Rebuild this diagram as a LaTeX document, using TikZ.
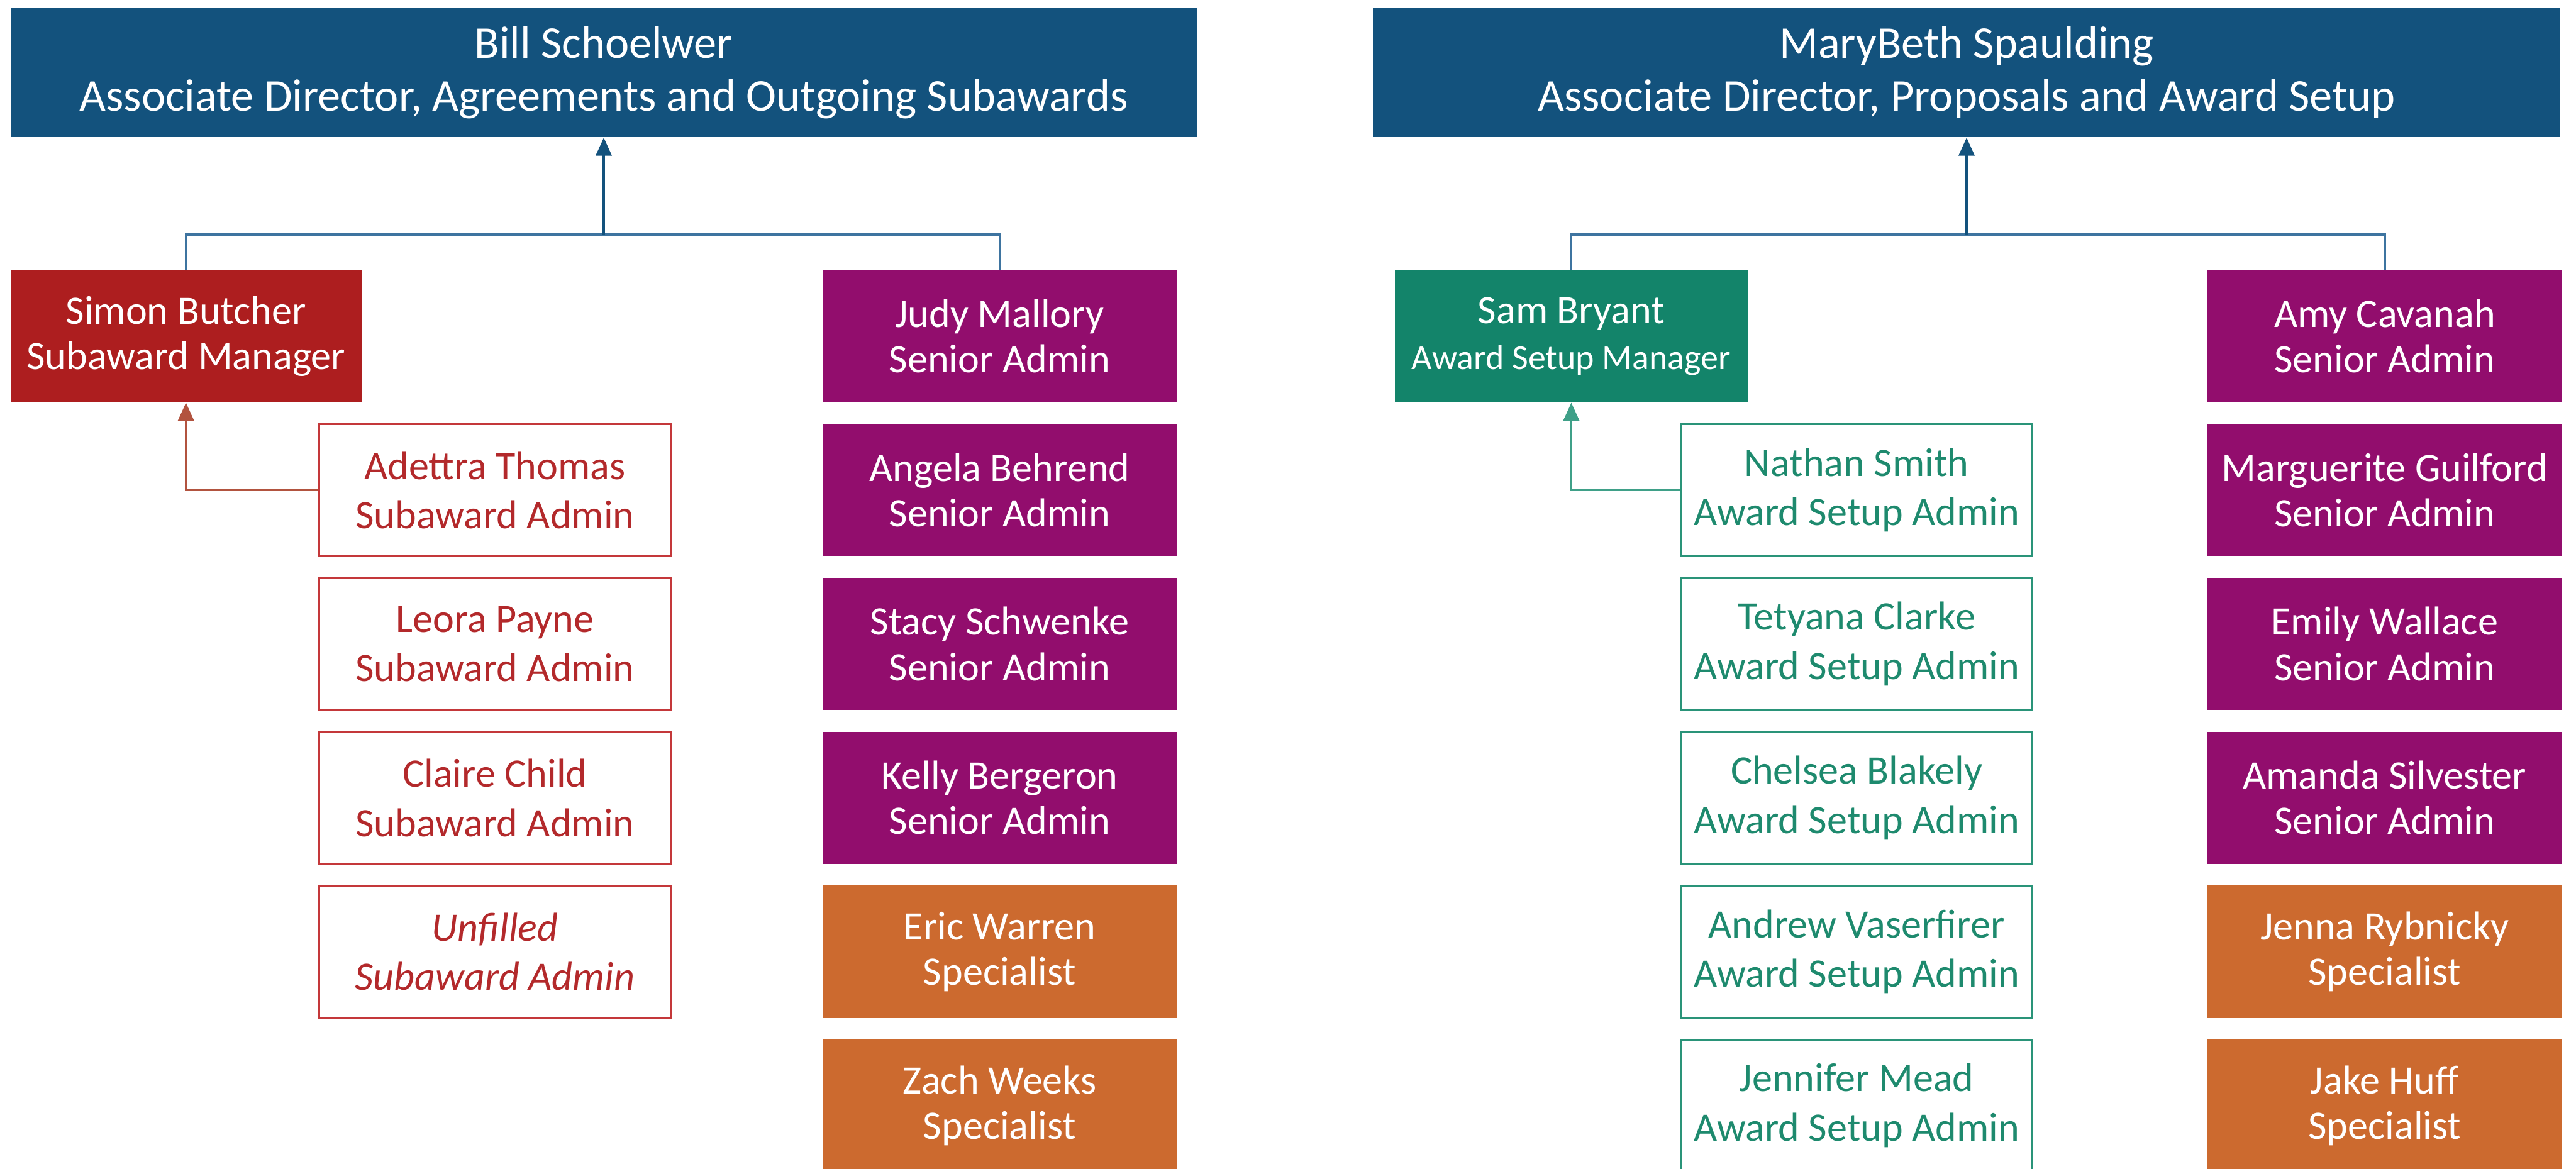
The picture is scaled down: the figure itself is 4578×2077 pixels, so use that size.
\documentclass[tikz,border=0pt]{standalone}
\usepackage{fontspec}
\setmainfont{Carlito}
\usetikzlibrary{arrows.meta}
\definecolor{topblue}{HTML}{13527D}
\definecolor{mred}{HTML}{AD1E1F}
\definecolor{opurple}{HTML}{920D6D}
\definecolor{oorange}{HTML}{CC6A2F}
\definecolor{mteal}{HTML}{13846A}
\definecolor{rline}{HTML}{C4383A}
\definecolor{rtext}{HTML}{B3292B}
\definecolor{tline}{HTML}{2A9479}
\definecolor{ttext}{HTML}{1E8A6E}
\definecolor{lblue}{HTML}{3E74A0}
\definecolor{lred}{HTML}{B2533F}
\definecolor{lteal}{HTML}{3FA088}
\tikzset{
  topbox/.style={rectangle, fill=topblue, text=white, minimum height=2.30cm, inner sep=0pt, align=center, font=\fontsize{23}{26.6}\selectfont},
  fbox/.style={rectangle, text=white, minimum height=2.35cm, inner sep=0pt, align=center, font=\fontsize{20.4}{23}\selectfont},
  mgrbox/.style={fbox, minimum width=6.25cm},
  purplebox/.style={fbox, fill=opurple, minimum width=6.29cm},
  orangebox/.style={fbox, fill=oorange, minimum width=6.29cm},
  obox/.style={rectangle, fill=white, minimum width=6.25cm, minimum height=2.34cm, inner sep=0pt, align=center, line width=1pt, font=\fontsize{20.4}{25}\selectfont},
  redbox/.style={obox, draw=rline, text=rtext},
  tealbox/.style={obox, draw=tline, text=ttext},
  conn/.style={line width=1.1pt},
  tip/.style={-{Triangle[width=0.28cm,length=0.32cm]}}
}
\begin{document}
\begin{tikzpicture}[x=0.01cm,y=-0.01cm]
\useasboundingbox (0,0) rectangle (4578,2077);
% ---------- left tree ----------
\node[topbox, minimum width=21.06cm] (bill) at (1073,129) {Bill Schoelwer\\Associate Director, Agreements and Outgoing Subawards};
\node[mgrbox, fill=mred, minimum width=6.23cm, minimum height=2.34cm] (simon) at (330.5,598) {Simon Butcher\\Subaward Manager};
\node[purplebox] (judy) at (1776.5,597.5) {Judy Mallory\\Senior Admin};
\node[purplebox] (angela) at (1776.5,871) {Angela Behrend\\Senior Admin};
\node[purplebox] (stacy) at (1776.5,1144.5) {Stacy Schwenke\\Senior Admin};
\node[purplebox] (kelly) at (1776.5,1418) {Kelly Bergeron\\Senior Admin};
\node[orangebox] (eric) at (1776.5,1691.5) {Eric Warren\\Specialist};
\node[orangebox] (zach) at (1776.5,1965) {Zach Weeks\\Specialist};
\node[redbox] (adettra) at (879.5,871) {Adettra Thomas\\Subaward Admin};
\node[redbox] (leora) at (879.5,1144.5) {Leora Payne\\Subaward Admin};
\node[redbox] (claire) at (879.5,1418) {Claire Child\\Subaward Admin};
\node[redbox] (unfilled) at (879.5,1691.5) {\itshape Unfilled\\\itshape Subaward Admin};
\coordinate (jl) at (1073,417);
\draw[conn, draw=lblue] (simon.north) |- (judy.north |- jl) -- (judy.north);
\draw[conn, draw=lblue, tip, color=topblue] (jl) -- (bill.south);
\draw[conn, draw=lred, tip, color=lred] (adettra.west) -| (simon.south);
% ---------- right tree ----------
\node[topbox, minimum width=21.08cm] (mary) at (3495,129) {MaryBeth Spaulding\\Associate Director, Proposals and Award Setup};
\node[mgrbox, fill=mteal, minimum width=6.27cm, minimum height=2.34cm] (sam) at (2792.5,598) {Sam Bryant\\{\fontsize{17.8}{23}\selectfont Award Setup Manager}};
\node[purplebox, minimum width=6.30cm] (amy) at (4238,597.5) {Amy Cavanah\\Senior Admin};
\node[purplebox, minimum width=6.30cm] (marg) at (4238,871) {Marguerite Guilford\\Senior Admin};
\node[purplebox, minimum width=6.30cm] (emily) at (4238,1144.5) {Emily Wallace\\Senior Admin};
\node[purplebox, minimum width=6.30cm] (amanda) at (4238,1418) {Amanda Silvester\\Senior Admin};
\node[orangebox, minimum width=6.30cm] (jenna) at (4238,1691.5) {Jenna Rybnicky\\Specialist};
\node[orangebox, minimum width=6.30cm] (jake) at (4238,1965) {Jake Huff\\Specialist};
\node[tealbox] (nathan) at (3299.5,871) {Nathan Smith\\Award Setup Admin};
\node[tealbox] (tetyana) at (3299.5,1144.5) {Tetyana Clarke\\Award Setup Admin};
\node[tealbox] (chelsea) at (3299.5,1418) {Chelsea Blakely\\Award Setup Admin};
\node[tealbox] (andrew) at (3299.5,1691.5) {Andrew Vaserfirer\\Award Setup Admin};
\node[tealbox] (jennifer) at (3299.5,1965) {Jennifer Mead\\Award Setup Admin};
\coordinate (jr) at (3495,417);
\draw[conn, draw=lblue] (sam.north) |- (amy.north |- jr) -- (amy.north);
\draw[conn, draw=lblue, tip, color=topblue] (jr) -- (mary.south);
\draw[conn, draw=lteal, tip, color=lteal] (nathan.west) -| (sam.south);
\end{tikzpicture}
\end{document}
